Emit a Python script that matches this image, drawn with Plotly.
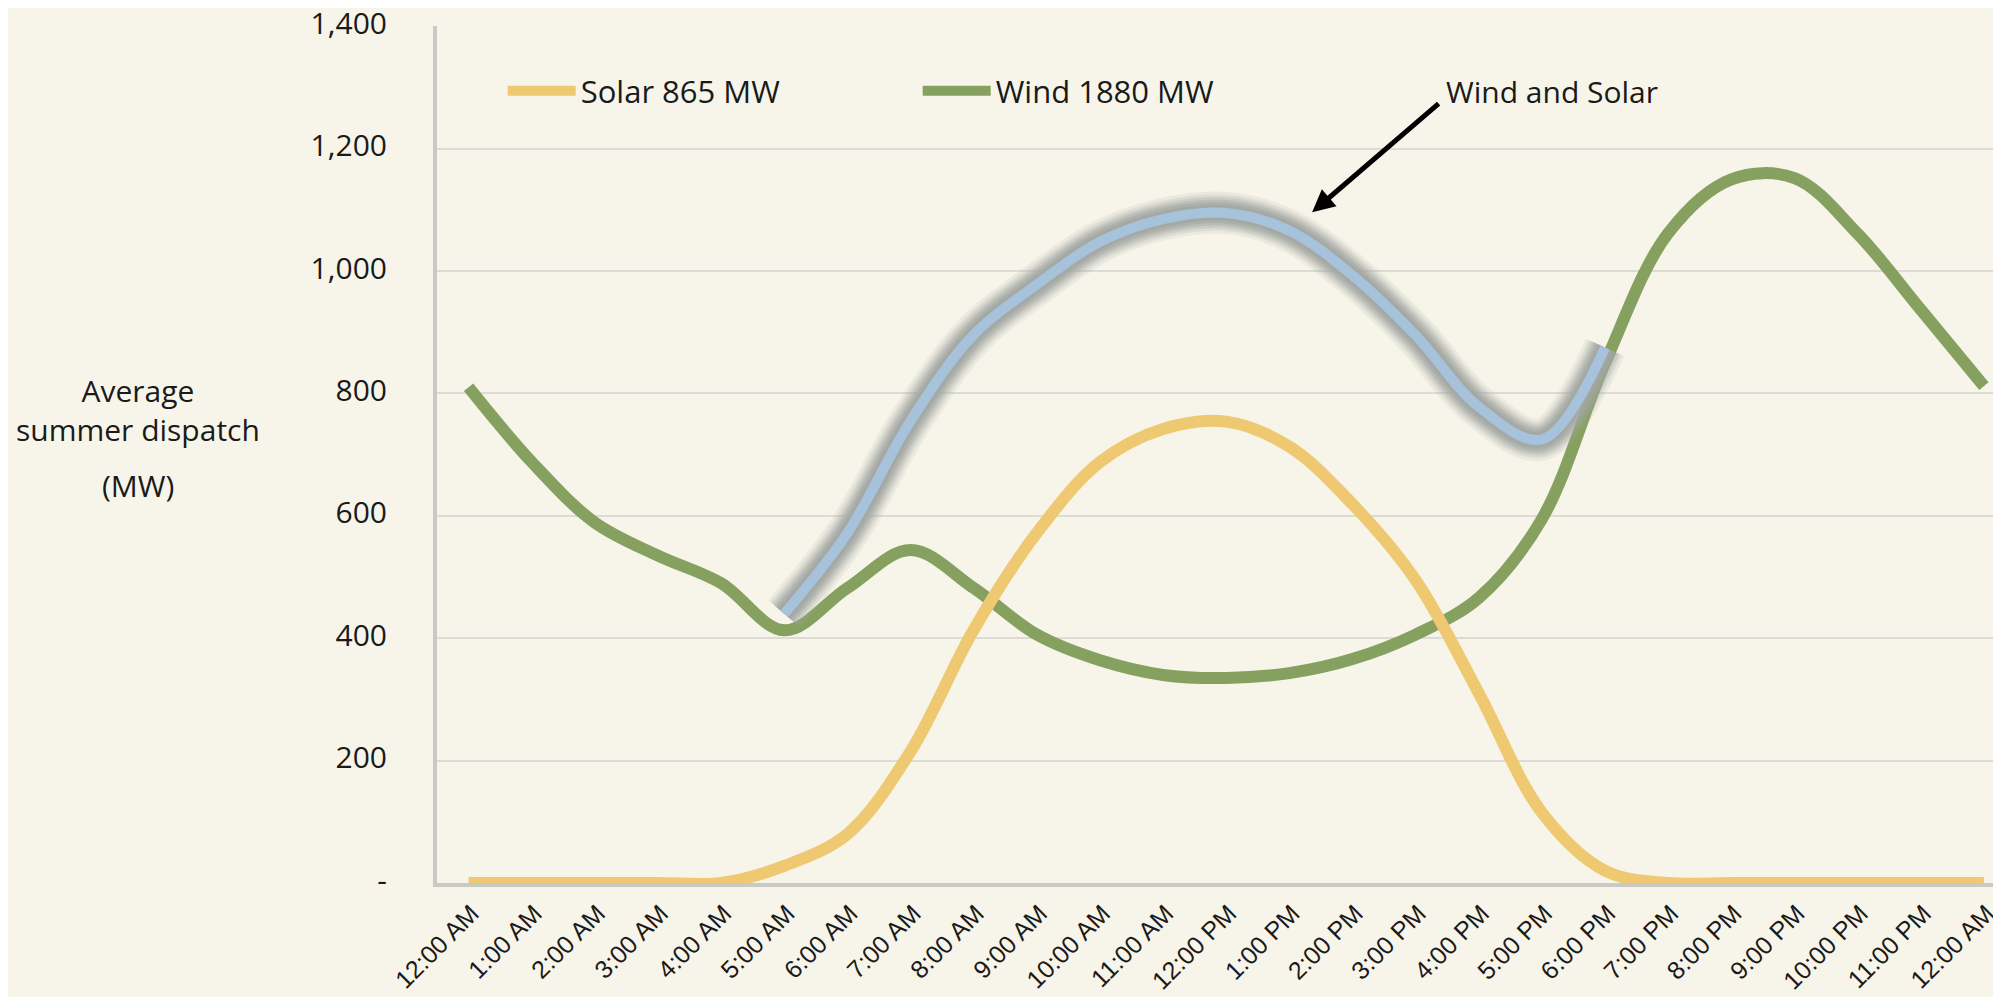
import plotly.graph_objects as go

# ---------------- data ----------------
hours = list(range(25))
time_labels = ["12:00 AM", "1:00 AM", "2:00 AM", "3:00 AM", "4:00 AM", "5:00 AM",
               "6:00 AM", "7:00 AM", "8:00 AM", "9:00 AM", "10:00 AM", "11:00 AM",
               "12:00 PM", "1:00 PM", "2:00 PM", "3:00 PM", "4:00 PM", "5:00 PM",
               "6:00 PM", "7:00 PM", "8:00 PM", "9:00 PM", "10:00 PM", "11:00 PM",
               "12:00 AM"]
solar_mw = [0, 0, 0, 0, 0, 28, 80, 215, 414, 572, 688, 742, 754, 713, 619, 495,
            310, 115, 20, 0, 0, 0, 0, 0, 0]
wind_mw = [810, 688, 589, 535, 490, 413, 482, 544, 482, 406, 364, 340, 335, 343,
           366, 406, 466, 595, 850, 1062, 1150, 1152, 1061, 937, 812]
combo_hours = list(range(5, 19))
combo_mw = [440, 572, 755, 896, 978, 1048, 1085, 1095, 1066, 993, 895, 778, 725, 875]

y_ticks = [0, 200, 400, 600, 800, 1000, 1200, 1400]
y_tick_labels = ["-", "200", "400", "600", "800", "1,000", "1,200", "1,400"]

# ---------------- style ----------------
# the page body has an 8px margin, so the figure is drawn 8px smaller
W, H = 1993, 989
ML, MR, MT, MB = 429, 0, 18, 114
BG = "#F7F5EA"
GREEN = "#86A15F"
GOLD = "#EFC972"
BLUE = "#A7C2DB"
HALO = "#A3A7A3"
AXIS = "#C9C9C5"
GRID = "#DCDBD6"
TXT = "#1A1A1A"
UI_FONT = "Open Sans"
SMOOTH = 1.0

fig = go.Figure()

fig.add_trace(go.Scatter(
    x=hours, y=wind_mw, name="Wind 1880 MW", mode="lines", legendrank=2,
    line=dict(color=GREEN, width=12, shape="spline", smoothing=SMOOTH),
    hoverinfo="skip"))
fig.add_trace(go.Scatter(
    x=hours, y=solar_mw, name="Solar 865 MW", mode="lines", legendrank=1,
    line=dict(color=GOLD, width=12, shape="spline", smoothing=SMOOTH),
    hoverinfo="skip"))

# soft grey glow around the combined line
for w, op in [(42, 0.14), (36, 0.2), (31, 0.28), (26, 0.4), (21, 0.55), (16, 0.7)]:
    fig.add_trace(go.Scatter(
        x=combo_hours, y=combo_mw, mode="lines", showlegend=False, opacity=op,
        line=dict(color=HALO, width=w, shape="spline", smoothing=SMOOTH),
        hoverinfo="skip"))
fig.add_trace(go.Scatter(
    x=combo_hours, y=combo_mw, mode="lines", showlegend=False,
    name="Wind and Solar",
    line=dict(color=BLUE, width=10, shape="spline", smoothing=SMOOTH),
    hoverinfo="skip"))

plot_w = W - ML - MR
plot_h = H - MT - MB
x_right = -0.5 + plot_w / 63.14

fig.update_layout(
    width=W, height=H,
    margin=dict(l=ML, r=MR, t=MT, b=MB, autoexpand=False),
    paper_bgcolor=BG, plot_bgcolor=BG,
    font=dict(family=UI_FONT, size=30, color=TXT),
    showlegend=True,
    legend=dict(orientation="h", x=0.042, xanchor="left", y=0.924, yanchor="middle",
                font=dict(family=UI_FONT, size=31, color=TXT),
                bgcolor="rgba(0,0,0,0)", entrywidth=332, entrywidthmode="pixels",
                itemwidth=68, traceorder="normal"),
    xaxis=dict(range=[-0.5, x_right], tickmode="array", tickvals=hours,
               ticktext=time_labels, tickangle=-45,
               tickfont=dict(family="Liberation Sans", size=25, color=TXT),
               showgrid=False, zeroline=False, showline=True, linecolor=AXIS,
               linewidth=4, ticks="", ticklabelstandoff=2, ticklabelshift=3,
               ticklabeloverflow="allow", fixedrange=True),
    yaxis=dict(range=[0, 1400.5], tickmode="array", tickvals=y_ticks,
               ticktext=y_tick_labels,
               tickfont=dict(family=UI_FONT, size=30, color=TXT),
               showgrid=True, gridcolor=GRID, gridwidth=1.5, zeroline=False,
               showline=True, linecolor=AXIS, linewidth=4, ticks="",
               ticklabelstandoff=40, ticklabelshift=-3,
               ticklabeloverflow="allow", fixedrange=True),
)

# y axis title (horizontal)
fig.add_annotation(xref="paper", yref="paper", x=(130 - ML) / plot_w, y=0.552,
                   xanchor="center", yanchor="middle", showarrow=False,
                   text="Average<br>summer dispatch", align="center",
                   font=dict(family=UI_FONT, size=30, color=TXT))
fig.add_annotation(xref="paper", yref="paper", x=(130 - ML) / plot_w, y=0.4644,
                   xanchor="center", yanchor="middle", showarrow=False,
                   text="(MW)", align="center",
                   font=dict(family=UI_FONT, size=30, color=TXT))

# callout
fig.add_annotation(x=15.45, y=1293, xref="x", yref="y", xanchor="left",
                   yanchor="middle", showarrow=False, text="Wind and Solar",
                   font=dict(family=UI_FONT, size=30, color=TXT))
fig.add_annotation(x=13.36, y=1096, xref="x", yref="y", text="",
                   showarrow=True, ax=128, ay=-110, arrowhead=2,
                   arrowsize=0.9, arrowwidth=5, arrowcolor="#000000")

fig.write_html("out.html", config={"displayModeBar": False})
